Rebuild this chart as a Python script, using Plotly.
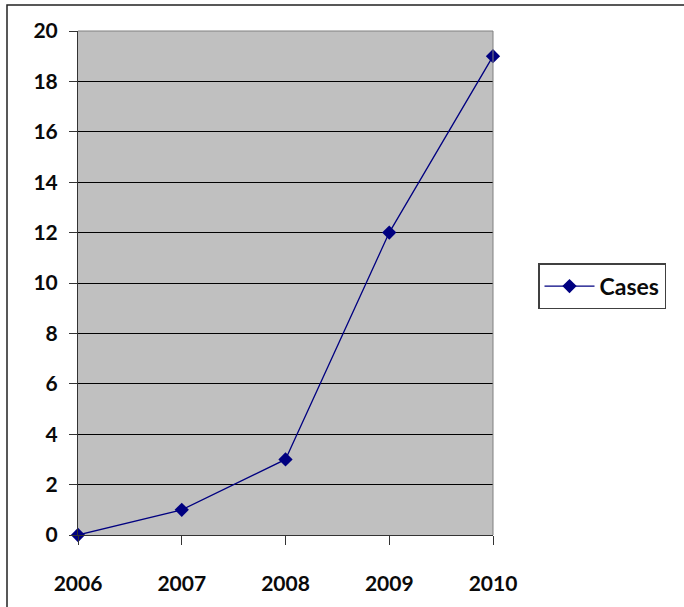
import plotly.graph_objects as go

# Yearly case counts
years = [2006, 2007, 2008, 2009, 2010]
cases = [0, 1, 3, 12, 19]
y_ticks = [0, 2, 4, 6, 8, 10, 12, 14, 16, 18, 20]

W, H = 684, 607
L, R, T, B = 78, 493, 31, 537  # plot area in pixels

def px_x(px):
    return (px - L) / (R - L)

def px_y(py):
    return (B - py) / (B - T)

font = dict(family="Lato, 'Open Sans', sans-serif", size=21, color="#0a0a0a")

fig = go.Figure()
fig.add_trace(go.Scatter(
    x=years, y=cases, name="<b>Cases</b>", mode="lines+markers",
    line=dict(color="#000080", width=1.3),
    marker=dict(symbol="diamond", size=11, color="#000080"),
    cliponaxis=False,
))

fig.update_layout(
    width=W, height=H,
    margin=dict(l=L, r=W - R, t=T, b=H - B),
    paper_bgcolor="white",
    plot_bgcolor="#C0C0C0",
    font=font,
    showlegend=True,
    legend=dict(
        x=px_x(538), y=px_y(264), xanchor="left", yanchor="top",
        bordercolor="#404040", borderwidth=1.5, bgcolor="white",
        font=dict(family="Lato, sans-serif", size=23, color="#0a0a0a"),
        itemwidth=50,
    ),
    xaxis=dict(
        range=[2006, 2010], tickmode="array", tickvals=years,
        ticktext=[f"<b>{y}</b>" for y in years],
        showgrid=False, zeroline=False,
        showline=True, linecolor="#333333", linewidth=1,
        ticks="outside", ticklen=9, tickcolor="#333333",
        ticklabelstandoff=21,
    ),
    yaxis=dict(
        range=[0, 20], tickmode="array", tickvals=y_ticks,
        ticktext=[f"<b>{v}</b>" for v in y_ticks],
        showgrid=True, gridcolor="#000000", gridwidth=1,
        zeroline=False,
        showline=True, linecolor="#333333", linewidth=1,
        ticks="outside", ticklen=8, tickcolor="#333333",
        ticklabelstandoff=7,
    ),
    shapes=[
        # top and right edges of the plot area
        dict(type="line", xref="paper", yref="paper", x0=0, x1=1, y0=1, y1=1,
             line=dict(color="#808080", width=1)),
        dict(type="line", xref="paper", yref="paper", x0=1, x1=1, y0=0, y1=1,
             line=dict(color="#808080", width=1)),
        # outer chart frame
        dict(type="rect", xref="paper", yref="paper",
             x0=px_x(7), x1=px_x(760), y0=px_y(660), y1=px_y(5),
             line=dict(color="#222222", width=1.5), layer="above"),
    ],
)

fig.write_html("out.html")
